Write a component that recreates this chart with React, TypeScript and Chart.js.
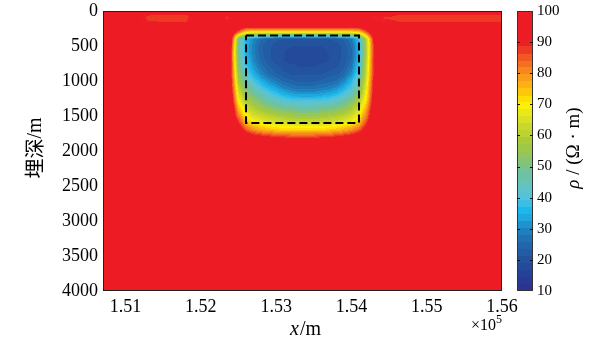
import React, { useEffect, useRef } from "react";
import { Chart, registerables } from "chart.js";

Chart.register(...registerables);

// ---- axes ----
const xTickValues = [151000, 152000, 153000, 154000, 155000, 156000];
const xMin = 150700;
const xMax = 156000;
const depthMin = 0;
const depthMax = 4000;
const depthStep = 500;
const rhoMin = 10;
const rhoMax = 100;
const rhoStep = 10;
const rhoLevels = 40;

// ---- resistivity model (Ω·m) ----
const backgroundRho = 100;

// near-surface strip (rows = depth, columns = x)
const surfaceX = [150700, 151000, 151300, 151800, 152050, 152150, 152350, 152550, 154000, 154300, 154700, 155900, 156000];
const surfaceDepth = [0, 60, 100, 150, 200];
const surfaceRho: number[][] = [
  [100, 100, 100, 100, 100, 100, 100, 100, 100, 100, 100, 100, 100],
  [100, 100, 89, 88, 100, 100, 89, 100, 100, 92, 88, 88, 88],
  [100, 100, 87, 87, 100, 100, 88, 100, 100, 89, 87, 87, 87],
  [100, 100, 89, 88, 100, 100, 90, 100, 100, 92, 88, 88, 88],
  [100, 100, 100, 100, 100, 100, 100, 100, 100, 100, 100, 100, 100],
];

// anomaly body (rows = depth, columns = x)
const gridX = [
  152200, 152300, 152400, 152500, 152600, 152700, 152800, 152900, 153000, 153100, 153200, 153300,
  153400, 153500, 153600, 153700, 153800, 153900, 154000, 154100, 154200, 154300, 154400, 154500,
];
const gridDepth = [200, 300, 400, 500, 600, 700, 800, 900, 1000, 1100, 1200, 1300, 1400, 1500, 1600, 1700, 1800, 1900];
const rho: number[][] = [
  [100, 100, 100, 100, 100, 100, 100, 100, 100, 100, 100, 100, 100, 100, 100, 100, 100, 100, 100, 100, 100, 100, 100, 100],
  [100, 100, 100, 85, 72, 70, 70, 70, 70, 70, 70, 70, 70, 70, 70, 70, 70, 70, 71, 73, 86, 100, 100, 100],
  [100, 100, 95, 50, 36, 30, 26, 23, 22, 21, 21, 21, 21, 21, 21, 21, 22, 24, 28, 38, 62, 92, 100, 100],
  [100, 100, 92, 48, 35, 29, 24, 22, 20, 20, 19, 19, 19, 19, 19, 20, 20, 22, 26, 36, 60, 90, 100, 100],
  [100, 100, 90, 48, 35, 29, 24, 22, 20, 19, 18, 18, 18, 18, 18, 19, 20, 22, 25, 36, 60, 90, 100, 100],
  [100, 100, 90, 50, 37, 30, 25, 22, 20, 19, 18, 18, 18, 18, 18, 19, 20, 22, 26, 37, 62, 90, 100, 100],
  [100, 100, 90, 52, 39, 32, 27, 24, 22, 20, 20, 19, 19, 19, 20, 20, 21, 23, 28, 39, 63, 90, 100, 100],
  [100, 100, 90, 55, 42, 35, 30, 26, 24, 22, 21, 21, 21, 21, 21, 22, 23, 25, 31, 42, 64, 90, 100, 100],
  [100, 100, 92, 58, 46, 40, 35, 31, 28, 25, 24, 23, 23, 23, 24, 25, 26, 30, 36, 46, 66, 92, 100, 100],
  [100, 100, 93, 62, 50, 45, 40, 36, 33, 30, 28, 27, 27, 27, 28, 29, 31, 35, 40, 50, 68, 93, 100, 100],
  [100, 100, 95, 66, 55, 50, 46, 42, 39, 36, 34, 33, 33, 33, 34, 35, 37, 41, 46, 55, 70, 94, 100, 100],
  [100, 100, 97, 70, 60, 55, 51, 48, 45, 43, 42, 41, 41, 41, 42, 43, 45, 48, 52, 60, 73, 96, 100, 100],
  [100, 100, 100, 76, 65, 60, 57, 54, 52, 50, 49, 48, 48, 48, 49, 50, 52, 54, 58, 65, 78, 98, 100, 100],
  [100, 100, 100, 82, 70, 65, 63, 61, 59, 58, 57, 56, 56, 56, 57, 58, 59, 61, 64, 70, 82, 100, 100, 100],
  [100, 100, 100, 90, 76, 71, 69, 67, 66, 65, 64, 64, 64, 64, 64, 65, 66, 68, 70, 75, 88, 100, 100, 100],
  [100, 100, 100, 97, 86, 80, 77, 75, 74, 73, 73, 73, 73, 73, 73, 74, 75, 77, 80, 85, 95, 100, 100, 100],
  [100, 100, 100, 100, 97, 94, 92, 90, 89, 88, 87, 87, 87, 87, 88, 89, 90, 92, 94, 97, 100, 100, 100, 100],
  [100, 100, 100, 100, 100, 100, 100, 100, 100, 100, 100, 100, 100, 100, 100, 100, 100, 100, 100, 100, 100, 100, 100, 100],
];

// ---- dashed model outline ----
const boxX = [152600, 154100, 154100, 152600, 152600];
const boxDepth = [350, 350, 1600, 1600, 350];

// ---- colour map ----
const colorStops: [number, string][] = [
  [10, "#2e3192"], [14, "#283c94"], [18, "#244a9b"], [22, "#225aa3"], [26, "#206cae"],
  [30, "#1f86c2"], [33, "#1ea3da"], [36, "#1cb9ec"], [39, "#49c2e3"], [42, "#5cc4d0"],
  [45, "#65c3b6"], [48, "#6fc29f"], [51, "#7fc37f"], [54, "#95c65a"], [58, "#a8ca3a"],
  [62, "#c3d62e"], [66, "#e0e324"], [70, "#fff200"], [73, "#fed307"], [76, "#fcb315"],
  [79, "#f8991c"], [82, "#f47c20"], [85, "#f15d22"], [88, "#ee3524"], [90, "#ed1c24"],
  [100, "#ed1c24"],
];

const SERIF = "'Liberation Serif', 'Times New Roman', serif";
const CJK = "'Noto Sans CJK SC', sans-serif";

function hexRgb(h: string): number[] {
  return [parseInt(h.slice(1, 3), 16), parseInt(h.slice(3, 5), 16), parseInt(h.slice(5, 7), 16)];
}
const stopRgb = colorStops.map(([v, c]) => [v, ...hexRgb(c)]);

function colorAt(v: number): number[] {
  if (v <= stopRgb[0][0]) return stopRgb[0].slice(1);
  for (let i = 1; i < stopRgb.length; i++) {
    const a = stopRgb[i - 1], b = stopRgb[i];
    if (v <= b[0]) {
      const t = (v - a[0]) / (b[0] - a[0]);
      return [0, 1, 2].map((k) => Math.round(a[k + 1] + (b[k + 1] - a[k + 1]) * t));
    }
  }
  return stopRgb[stopRgb.length - 1].slice(1);
}
const levelWidth = (rhoMax - rhoMin) / rhoLevels;
const levelColors: number[][] = [];
for (let k = 0; k < rhoLevels; k++) levelColors.push(colorAt(rhoMin + (k + 0.5) * levelWidth));

function levelOf(v: number): number {
  let k = Math.floor((v - rhoMin) / levelWidth);
  if (k < 0) k = 0;
  if (k > rhoLevels - 1) k = rhoLevels - 1;
  return k;
}

function findCell(arr: number[], v: number): number {
  for (let i = 0; i < arr.length - 1; i++) if (v >= arr[i] && v <= arr[i + 1]) return i;
  return -1;
}

function bilinear(xs: number[], ds: number[], grid: number[][], x: number, d: number): number | null {
  const i = findCell(xs, x);
  const j = findCell(ds, d);
  if (i < 0 || j < 0) return null;
  const tx = (x - xs[i]) / (xs[i + 1] - xs[i]);
  const ty = (d - ds[j]) / (ds[j + 1] - ds[j]);
  const a = grid[j][i], b = grid[j][i + 1], c = grid[j + 1][i], e = grid[j + 1][i + 1];
  return (a * (1 - tx) + b * tx) * (1 - ty) + (c * (1 - tx) + e * tx) * ty;
}

function sample(x: number, d: number): number {
  const s = bilinear(surfaceX, surfaceDepth, surfaceRho, x, d);
  if (s !== null && d < surfaceDepth[surfaceDepth.length - 1]) return s;
  const v = bilinear(gridX, gridDepth, rho, x, d);
  return v === null ? backgroundRho : v;
}

const fieldPlugin = {
  id: "field",
  beforeDatasetsDraw(chart: any) {
    const { ctx, chartArea: a, scales } = chart;
    const xs = scales.x, ys = scales.y;
    const w = Math.round(a.right - a.left), h = Math.round(a.bottom - a.top);
    const off = document.createElement("canvas");
    off.width = w;
    off.height = h;
    const octx = off.getContext("2d")!;
    const img = octx.createImageData(w, h);
    for (let j = 0; j < h; j++) {
      const d = ys.getValueForPixel(a.top + j + 0.5);
      for (let i = 0; i < w; i++) {
        const x = xs.getValueForPixel(a.left + i + 0.5);
        const c = levelColors[levelOf(sample(x, d))];
        const p = (j * w + i) * 4;
        img.data[p] = c[0];
        img.data[p + 1] = c[1];
        img.data[p + 2] = c[2];
        img.data[p + 3] = 255;
      }
    }
    octx.putImageData(img, 0, 0);
    ctx.drawImage(off, a.left, a.top);
  },
  afterDraw(chart: any) {
    const { ctx, chartArea: a, scales } = chart;
    const cb = scales.cb;
    ctx.save();
    // frame
    ctx.strokeStyle = "#231f20";
    ctx.lineWidth = 1;
    ctx.strokeRect(a.left + 0.5, a.top + 0.5, a.right - a.left - 1, a.bottom - a.top - 1);

    // colour bar
    const x0 = a.right + 15, x1 = a.right + 31;
    for (let k = 0; k < rhoLevels; k++) {
      const v0 = rhoMin + k * levelWidth, v1 = v0 + levelWidth;
      const y0 = cb.getPixelForValue(v1), y1 = cb.getPixelForValue(v0);
      const c = levelColors[k];
      ctx.fillStyle = `rgb(${c[0]},${c[1]},${c[2]})`;
      ctx.fillRect(x0, Math.floor(y0), x1 - x0, Math.ceil(y1) - Math.floor(y0));
    }
    ctx.strokeStyle = "#333";
    ctx.strokeRect(x0 + 0.5, cb.getPixelForValue(rhoMax) + 0.5, x1 - x0 - 1, cb.getPixelForValue(rhoMin) - cb.getPixelForValue(rhoMax) - 1);
    ctx.strokeStyle = "#111";
    for (let v = rhoMin + rhoStep; v < rhoMax; v += rhoStep) {
      const y = Math.round(cb.getPixelForValue(v)) + 0.5;
      ctx.beginPath();
      ctx.moveTo(x0, y);
      ctx.lineTo(x0 + 3, y);
      ctx.moveTo(x1 - 3, y);
      ctx.lineTo(x1, y);
      ctx.stroke();
    }

    ctx.fillStyle = "#000";
    ctx.textBaseline = "alphabetic";
    // colour bar title
    ctx.save();
    ctx.translate(579, 148);
    ctx.rotate(-Math.PI / 2);
    ctx.font = `italic 19px ${SERIF}`;
    const p1 = "ρ";
    const w1 = ctx.measureText(p1).width;
    ctx.font = `19px ${SERIF}`;
    const p2 = " / (Ω · m)";
    const w2 = ctx.measureText(p2).width;
    let sx = -(w1 + w2) / 2;
    ctx.font = `italic 19px ${SERIF}`;
    ctx.fillText(p1, sx, 0);
    ctx.font = `19px ${SERIF}`;
    ctx.fillText(p2, sx + w1, 0);
    ctx.restore();

    // y title
    ctx.save();
    ctx.translate(42, 148);
    ctx.rotate(-Math.PI / 2);
    ctx.font = `20px ${CJK}`;
    const t1 = "埋深";
    const tw1 = ctx.measureText(t1).width;
    ctx.font = `20px ${SERIF}`;
    const t2 = "/m";
    const tw2 = ctx.measureText(t2).width;
    sx = -(tw1 + tw2) / 2;
    ctx.font = `20px ${CJK}`;
    ctx.fillText(t1, sx, 0);
    ctx.font = `20px ${SERIF}`;
    ctx.fillText(t2, sx + tw1, -1);
    ctx.restore();

    // x title
    ctx.font = `italic 20px ${SERIF}`;
    const q1 = "x";
    const qw1 = ctx.measureText(q1).width + 1;
    ctx.font = `20px ${SERIF}`;
    const q2 = "/m";
    const qw2 = ctx.measureText(q2).width;
    sx = (a.left + a.right) / 2 + 3 - (qw1 + qw2) / 2;
    ctx.font = `italic 20px ${SERIF}`;
    ctx.fillText(q1, sx, 335);
    ctx.font = `20px ${SERIF}`;
    ctx.fillText(q2, sx + qw1, 335);

    // exponent
    ctx.font = `16px ${SERIF}`;
    const e1 = "×10";
    const ew = ctx.measureText(e1).width;
    ctx.fillText(e1, 471, 330);
    ctx.font = `12px ${SERIF}`;
    ctx.fillText("5", 471 + ew, 323);
    ctx.restore();
  },
};

const hiddenTicks = (len: number) => ({
  display: true,
  drawOnChartArea: false,
  drawTicks: true,
  tickLength: len,
  color: "rgba(0,0,0,0)",
});

export default function App() {
  const ref = useRef<HTMLCanvasElement>(null);
  useEffect(() => {
    if (!ref.current) return;
    const tickFont = { family: SERIF, size: 18 };
    const chart = new Chart(ref.current, {
      type: "scatter",
      data: {
        datasets: [
          {
            label: "model",
            data: boxX.map((x, i) => ({ x, y: boxDepth[i] })),
            showLine: true,
            borderColor: "#000",
            borderWidth: 2,
            borderDash: [8, 4],
            pointRadius: 0,
            fill: false,
          },
        ],
      },
      options: {
        animation: false,
        responsive: true,
        maintainAspectRatio: false,
        layout: { padding: { top: 11, left: 0, right: 0, bottom: 0 } },
        plugins: { legend: { display: false }, tooltip: { enabled: false } },
        scales: {
          x: {
            type: "linear",
            min: xMin,
            max: xMax,
            grid: hiddenTicks(5),
            border: { display: false },
            afterBuildTicks: (s: any) => {
              s.ticks = xTickValues.map((v) => ({ value: v }));
            },
            afterFit: (s: any) => {
              s.height = 64;
            },
            ticks: {
              font: tickFont,
              color: "#000",
              padding: 0,
              maxRotation: 0,
              autoSkip: false,
              callback: (v: any) => (Number(v) / 1e5).toFixed(2),
            },
          },
          y: {
            type: "linear",
            reverse: true,
            min: depthMin,
            max: depthMax,
            grid: hiddenTicks(5),
            border: { display: false },
            afterFit: (s: any) => {
              s.width = 103;
            },
            ticks: {
              stepSize: depthStep,
              font: tickFont,
              color: "#000",
              padding: 0,
              callback: (v: any) => String(v),
            },
          },
          cb: {
            type: "linear",
            position: "right",
            min: rhoMin,
            max: rhoMax,
            grid: hiddenTicks(35),
            border: { display: false },
            afterFit: (s: any) => {
              s.width = 104;
            },
            ticks: {
              stepSize: rhoStep,
              font: { family: SERIF, size: 15 },
              color: "#000",
              padding: 0,
              callback: (v: any) => String(v),
            },
          },
        },
      },
      plugins: [fieldPlugin],
    });
    return () => chart.destroy();
  }, []);
  return (
    <div style={{ position: "fixed", left: 0, top: 0, width: 606, height: 355, background: "#fff" }}>
      <canvas ref={ref} />
    </div>
  );
}
